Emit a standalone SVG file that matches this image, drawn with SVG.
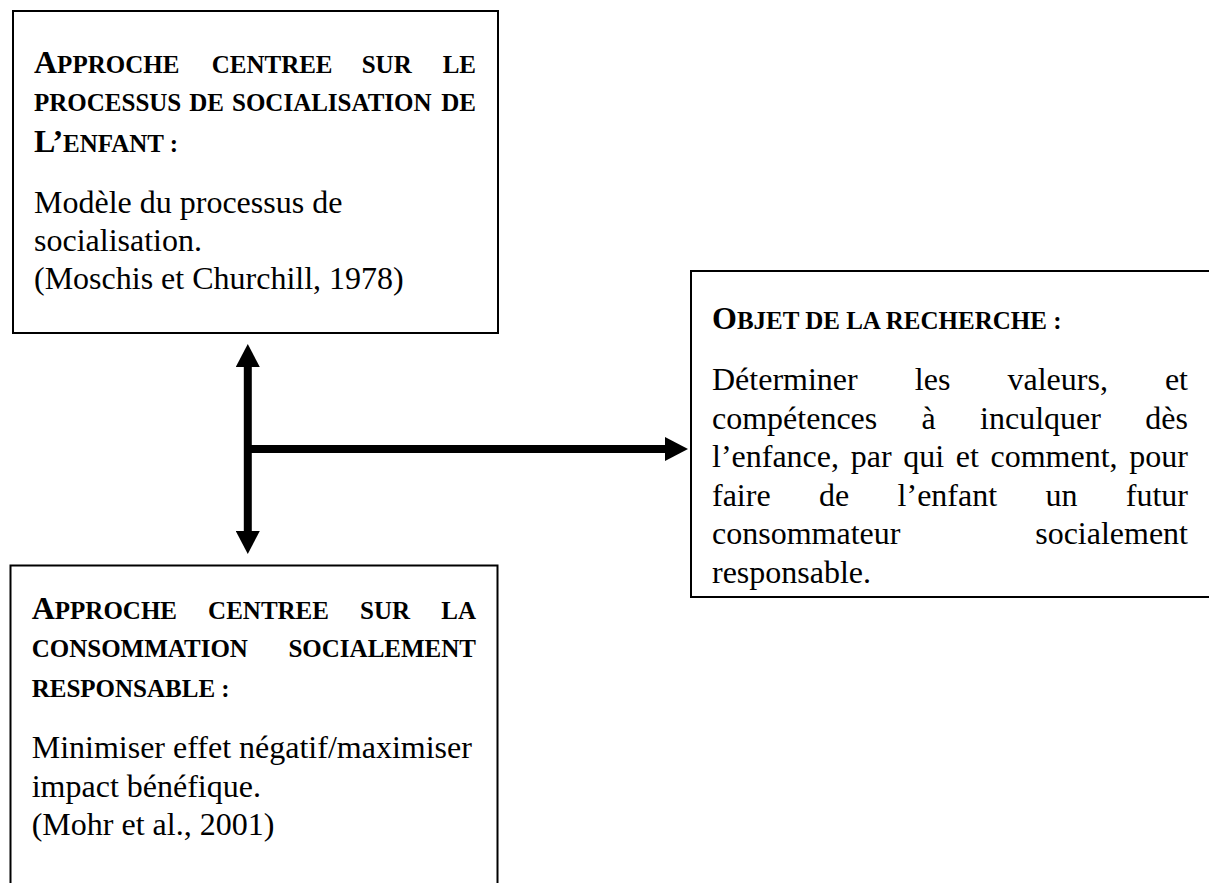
<svg xmlns="http://www.w3.org/2000/svg" width="1209" height="883" viewBox="0 0 1209 883">
<style>
.box{fill:#fff;stroke:#000;stroke-width:2}
.t{font-family:"Liberation Serif","Times New Roman",serif;fill:#000}
.h{font-weight:bold;font-size:25px}
.H{font-size:32px}
.b{font-size:32px}
.conn{stroke:#000;stroke-width:8;fill:none}
</style>
<defs>
<marker id="ah" viewBox="0 0 23 24" refX="0" refY="12" markerWidth="23" markerHeight="24" markerUnits="userSpaceOnUse" orient="auto-start-reverse">
<path d="M0,0 L23,12 L0,24 z" fill="#000"/>
</marker>
</defs>
<rect width="1209" height="883" fill="#fff"/>

<g id="node-socialisation">
<rect class="box" x="13" y="11" width="485" height="322"/>
<text class="t h" y="72.5"><tspan x="34" class="H">A</tspan>PPROCHE<tspan x="211.7">CENTREE</tspan><tspan x="361.7">SUR</tspan><tspan x="476" text-anchor="end">LE</tspan></text>
<text class="t h" y="111"><tspan x="34">PROCESSUS</tspan><tspan x="189.3">DE</tspan><tspan x="232">SOCIALISATION</tspan><tspan x="476" text-anchor="end">DE</tspan></text>
<text class="t h" x="34" y="151.5"><tspan class="H">L’</tspan>ENFANT :</text>
<text class="t b" x="34" y="213">Modèle du processus de</text>
<text class="t b" x="34" y="251">socialisation.</text>
<text class="t b" x="34" y="289">(Moschis et Churchill, 1978)</text>
</g>

<g id="node-objet">
<rect class="box" x="691" y="271" width="540" height="326"/>
<text class="t h" x="712" y="328.5"><tspan class="H">O</tspan>BJET DE LA RECHERCHE :</text>
<text class="t b" y="390"><tspan x="712">Déterminer</tspan><tspan x="914.8">les</tspan><tspan x="1007.5">valeurs,</tspan><tspan x="1188" text-anchor="end">et</tspan></text>
<text class="t b" y="428.6"><tspan x="712">compétences</tspan><tspan x="921.6">à</tspan><tspan x="980.1">inculquer</tspan><tspan x="1188" text-anchor="end">dès</tspan></text>
<text class="t b" y="467.2"><tspan x="712">l’enfance,</tspan><tspan x="850.7">par</tspan><tspan x="903.2">qui</tspan><tspan x="955.8">et</tspan><tspan x="990.5">comment,</tspan><tspan x="1188" text-anchor="end">pour</tspan></text>
<text class="t b" y="505.8"><tspan x="712">faire</tspan><tspan x="819">de</tspan><tspan x="897.6">l’enfant</tspan><tspan x="1045.5">un</tspan><tspan x="1188" text-anchor="end">futur</tspan></text>
<text class="t b" y="544.4"><tspan x="712">consommateur</tspan><tspan x="1188" text-anchor="end">socialement</tspan></text>
<text class="t b" x="712" y="583">responsable.</text>
</g>

<g id="node-csr">
<rect class="box" x="10.5" y="565.5" width="487" height="340"/>
<text class="t h" y="618.5"><tspan x="31.7" class="H">A</tspan>PPROCHE<tspan x="208.1">CENTREE</tspan><tspan x="360.1">SUR</tspan><tspan x="476" text-anchor="end">LA</tspan></text>
<text class="t h" y="657.3"><tspan x="31.7">CONSOMMATION</tspan><tspan x="476" text-anchor="end">SOCIALEMENT</tspan></text>
<text class="t h" x="31.7" y="696.5">RESPONSABLE :</text>
<text class="t b" x="31.7" y="758.3">Minimiser effet négatif/maximiser</text>
<text class="t b" x="31.7" y="796.7">impact bénéfique.</text>
<text class="t b" x="31.7" y="835">(Mohr et al., 2001)</text>
</g>

<g id="connectors">
<line class="conn" x1="247.8" y1="367" x2="247.8" y2="531" marker-start="url(#ah)" marker-end="url(#ah)"/>
<line class="conn" x1="247.8" y1="449" x2="665" y2="449" marker-end="url(#ah)"/>
</g>
</svg>
